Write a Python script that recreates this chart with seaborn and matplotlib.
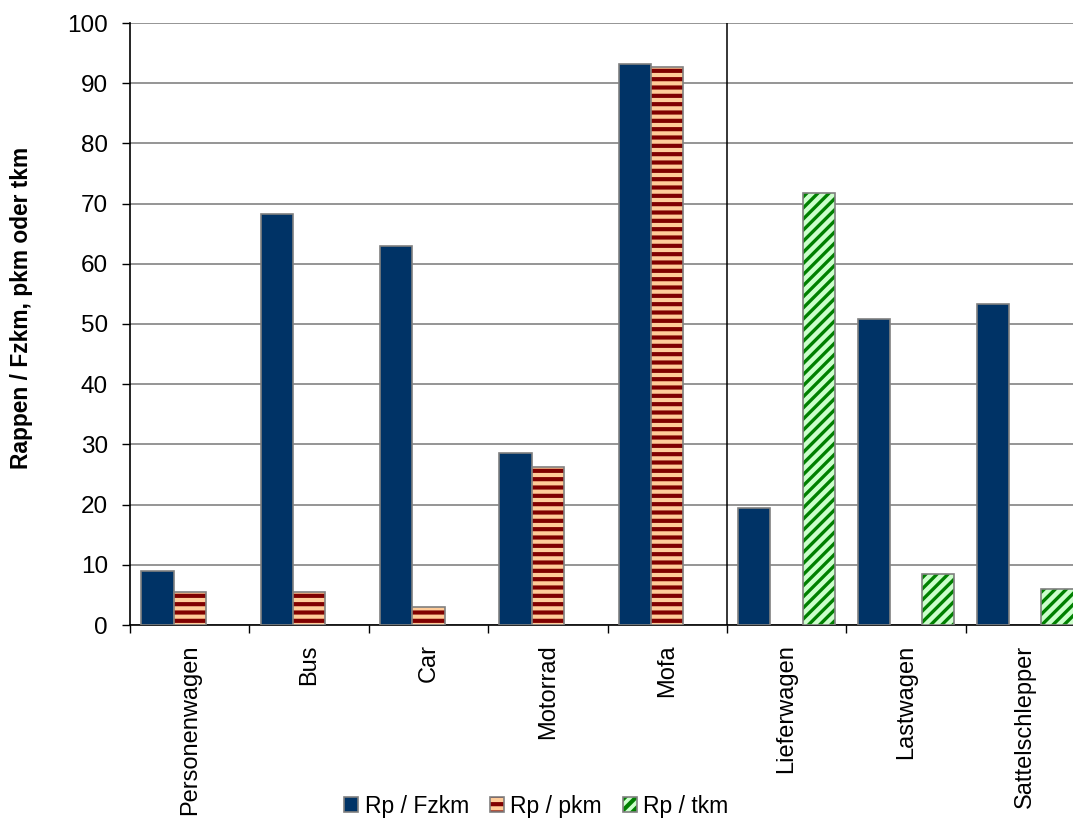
import numpy as np
import pandas as pd
import matplotlib
matplotlib.use("Agg")
import matplotlib.pyplot as plt
import seaborn as sns
from matplotlib.patches import Rectangle
from matplotlib.ticker import FixedLocator
from matplotlib.legend_handler import HandlerTuple

categories = ["Personenwagen", "Bus", "Car", "Motorrad", "Mofa",
              "Lieferwagen", "Lastwagen", "Sattelschlepper"]
series = ["Rp / Fzkm", "Rp / pkm", "Rp / tkm"]
rp_fzkm = [8.9, 68.3, 63.0, 28.6, 93.2, 19.4, 50.8, 53.4]
rp_pkm = [5.5, 5.5, 3.0, 26.2, 92.7, None, None, None]
rp_tkm = [None, None, None, None, None, 71.7, 8.4, 5.9]
y_ticks = list(range(0, 101, 10))
y_label = "Rappen / Fzkm, pkm oder tkm"

sns.set_theme(style="white")
plt.rcParams['font.family'] = ['Liberation Sans', 'DejaVu Sans']
plt.rcParams['hatch.linewidth'] = 3.0

rows = []
for s, vals in zip(series, [rp_fzkm, rp_pkm, rp_tkm]):
    for c, v in zip(categories, vals):
        if v is not None:
            rows.append({"Kategorie": c, "Serie": s, "Wert": v})
df = pd.DataFrame(rows)

W, H = 1073, 822
fig = plt.figure(figsize=(W / 100, H / 100), dpi=100)
ax = fig.add_axes([130 / W, 1 - 625 / H, (1085 - 130) / W, (625 - 23) / H])

palette = {"Rp / Fzkm": "#003366", "Rp / pkm": "#FFCC99", "Rp / tkm": "#CCFFCC"}
edge_gray = "#808080"
sns.barplot(data=df, x="Kategorie", y="Wert", hue="Serie", order=categories,
            hue_order=series, palette=palette, width=0.81, edgecolor=edge_gray,
            linewidth=1.2, saturation=1, ax=ax, zorder=3)
if ax.get_legend() is not None:
    ax.get_legend().remove()

hatch_style = {"Rp / pkm": ("--", "#800000", 3.0), "Rp / tkm": ("///", "#008000", 2.4)}
handles, labels = [], []
for lab, cont in zip(series, ax.containers):
    outline = None
    for bar in cont:
        if lab in hatch_style:
            h, col, hlw = hatch_style[lab]
            bar.set_hatch(h)
            bar.set_edgecolor(col)
            bar.set_linewidth(0.01)
            if hasattr(bar, "set_hatch_linewidth"):
                bar.set_hatch_linewidth(hlw)
            outline = Rectangle(bar.get_xy(), bar.get_width(), bar.get_height(),
                                fill=False, edgecolor=edge_gray, linewidth=1.2, zorder=4)
            ax.add_patch(outline)
    first = cont.patches[0]
    handles.append((first, outline) if outline is not None else first)
    labels.append(lab)

ax.axvline(4.5, color="black", linewidth=1.1, zorder=2)

ax.set_xlim(-0.5, 7.5)
ax.set_ylim(0, 100)
ax.set_yticks(y_ticks)
ax.set_xticks(range(len(categories)))
ax.set_xticklabels(categories, rotation=90, fontsize=17)
ax.xaxis.set_minor_locator(FixedLocator(np.arange(-0.5, len(categories) + 0.5, 1)))
ax.tick_params(axis='x', which='major', length=0, pad=14, bottom=True)
ax.tick_params(axis='x', which='minor', length=6, width=1, color='black',
               direction='out', bottom=True)
ax.tick_params(axis='y', which='major', length=6, width=1, color='black',
               direction='out', left=True, pad=10, labelsize=17.5, labelcolor='black')
ax.tick_params(axis='x', labelcolor='black')
ax.yaxis.grid(True, color='#8c8c8c', linewidth=1.3)
ax.xaxis.grid(False)
ax.set_axisbelow(True)
for side in ['top', 'right']:
    ax.spines[side].set_visible(False)
for side in ['left', 'bottom']:
    ax.spines[side].set_color('black')
    ax.spines[side].set_linewidth(1.2)
ax.set_xlabel("")
ax.set_ylabel("")
fig.text(22 / W, 1 - 308 / H, y_label, rotation=90, ha='center', va='center',
         fontsize=16.4, fontweight='bold', color='black')

leg = fig.legend(handles, labels, loc='center', bbox_to_anchor=(0.5, 1 - 806 / H),
                 ncol=3, frameon=False, fontsize=16.5, handlelength=0.6, handleheight=0.6,
                 handletextpad=0.3, columnspacing=0.9,
                 handler_map={tuple: HandlerTuple(ndivide=1, pad=0)})
for t in leg.get_texts():
    t.set_color('black')

fig.savefig("out.png", dpi=100)
